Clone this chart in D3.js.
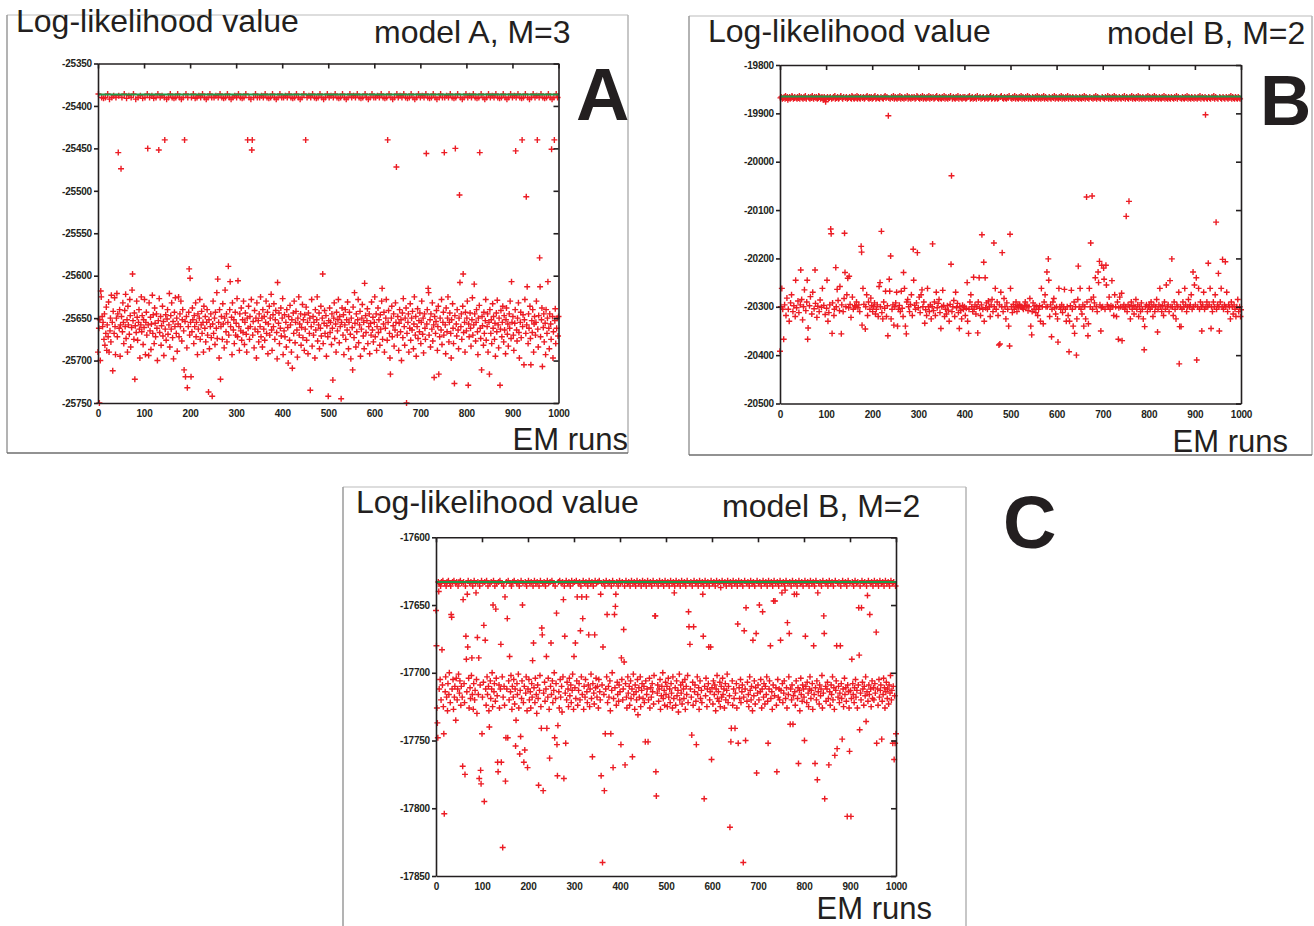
<!DOCTYPE html>
<html><head><meta charset="utf-8">
<script src="https://cdn.jsdelivr.net/npm/d3@7"></script>
<style>
body{margin:0;background:#fff}
svg{display:block}
text{font-family:"Liberation Sans",Arial,Helvetica,sans-serif;fill:#231f20}
</style>
</head><body>
<svg id="chart" width="1314" height="926"></svg>
<script>
// ---------------- data ----------------
const yLabel = "Log-likelihood value";
const xLabel = "EM runs";
const panelTitles = ["model A, M=3", "model B, M=2", "model B, M=2"];
const panelLetters = ["A", "B", "C"];
const xTicks = [0,100,200,300,400,500,600,700,800,900,1000];
const yTicksA = [-25350,-25400,-25450,-25500,-25550,-25600,-25650,-25700,-25750];
const yTicksB = [-19800,-19900,-20000,-20100,-20200,-20300,-20400,-20500];
const yTicksC = [-17600,-17650,-17700,-17750,-17800,-17850];
const bestA = -25386.5, bestB = -19865, bestC = -17633;
const runs = d3.range(0, 1001);

const valuesA = [
-25690,-25386,-25662,-25750,-25652,-25700,-25618,-25625,-25390,-25648,-25660,-25655,-25391,-25675,-25645,-25682,-25390,-25668,-25637,-25688,-25658,-25386,-25672,-25631,-25690,-25392,-25665,-25650,-25678,-25623,-25390,-25655,-25712,-25642,-25388,-25668,-25626,-25660,-25693,-25390,-25650,-25621,-25672,-25645,-25455,-25388,-25662,-25640,-25695,-25658,
-25474,-25648,-25390,-25666,-25632,-25655,-25680,-25386,-25641,-25660,-25622,-25674,-25391,-25652,-25690,-25636,-25658,-25388,-25669,-25628,-25647,-25684,-25390,-25661,-25617,-25598,-25653,-25386,-25675,-25644,-25722,-25659,-25392,-25667,-25630,-25649,-25676,-25390,-25655,-25640,-25663,-25697,-25388,-25658,-25625,-25666,-25647,-25391,-25681,-25652,
-25661,-25628,-25390,-25693,-25655,-25643,-25670,-25386,-25450,-25658,-25694,-25632,-25390,-25665,-25649,-25687,-25657,-25388,-25623,-25668,-25646,-25391,-25680,-25638,-25656,-25672,-25390,-25645,-25662,-25700,-25386,-25653,-25452,-25627,-25667,-25390,-25648,-25682,-25659,-25388,-25636,-25671,-25654,-25694,-25390,-25440,-25663,-25646,-25676,-25392,
-25651,-25640,-25669,-25390,-25658,-25621,-25684,-25386,-25647,-25663,-25632,-25390,-25673,-25654,-25698,-25391,-25643,-25660,-25626,-25390,-25668,-25650,-25689,-25386,-25657,-25625,-25672,-25390,-25645,-25660,-25630,-25392,-25677,-25652,-25640,-25390,-25665,-25711,-25440,-25654,-25719,-25386,-25648,-25685,-25732,-25390,-25660,-25643,-25592,-25670,
-25603,-25655,-25719,-25390,-25666,-25638,-25652,-25386,-25680,-25647,-25660,-25391,-25632,-25672,-25655,-25390,-25693,-25645,-25663,-25388,-25650,-25628,-25675,-25390,-25658,-25642,-25668,-25386,-25655,-25690,-25636,-25390,-25662,-25648,-25678,-25392,-25655,-25640,-25670,-25390,-25737,-25652,-25686,-25386,-25660,-25645,-25673,-25390,-25742,-25657,
-25630,-25668,-25390,-25650,-25681,-25643,-25388,-25662,-25620,-25674,-25604,-25390,-25655,-25697,-25640,-25386,-25722,-25660,-25648,-25390,-25675,-25633,-25657,-25391,-25685,-25650,-25617,-25390,-25666,-25645,-25678,-25386,-25655,-25589,-25670,-25390,-25640,-25607,-25660,-25392,-25649,-25693,-25632,-25390,-25664,-25652,-25680,-25388,-25643,-25670,
-25656,-25390,-25627,-25672,-25606,-25386,-25660,-25688,-25645,-25390,-25665,-25638,-25676,-25391,-25652,-25667,-25630,-25390,-25681,-25655,-25644,-25386,-25669,-25690,-25650,-25440,-25662,-25636,-25390,-25675,-25648,-25660,-25392,-25628,-25452,-25440,-25670,-25654,-25390,-25685,-25641,-25663,-25386,-25650,-25697,-25632,-25390,-25666,-25653,-25678,
-25645,-25390,-25660,-25625,-25672,-25388,-25650,-25684,-25640,-25390,-25663,-25648,-25676,-25386,-25655,-25630,-25668,-25390,-25643,-25692,-25657,-25391,-25636,-25670,-25650,-25390,-25622,-25664,-25688,-25386,-25646,-25660,-25633,-25390,-25675,-25652,-25641,-25392,-25667,-25698,-25608,-25390,-25656,-25644,-25680,-25386,-25662,-25638,-25671,-25390,
-25650,-25627,-25693,-25390,-25665,-25646,-25672,-25388,-25655,-25684,-25640,-25390,-25661,-25703,-25648,-25386,-25676,-25635,-25658,-25390,-25690,-25652,-25709,-25391,-25644,-25668,-25630,-25390,-25679,-25655,-25642,-25386,-25664,-25696,-25650,-25390,-25625,-25670,-25657,-25392,-25645,-25682,-25661,-25390,-25634,-25673,-25652,-25386,-25688,-25646,
-25663,-25440,-25637,-25676,-25390,-25655,-25692,-25644,-25388,-25668,-25650,-25735,-25390,-25660,-25628,-25683,-25386,-25648,-25670,-25655,-25390,-25697,-25640,-25664,-25391,-25652,-25625,-25677,-25390,-25658,-25644,-25686,-25386,-25662,-25636,-25671,-25390,-25650,-25598,-25680,-25392,-25656,-25641,-25668,-25390,-25647,-25695,-25659,-25386,-25672,
-25742,-25653,-25390,-25638,-25667,-25655,-25388,-25681,-25645,-25662,-25723,-25390,-25650,-25632,-25674,-25386,-25657,-25690,-25643,-25390,-25665,-25652,-25628,-25391,-25679,-25648,-25660,-25390,-25745,-25655,-25638,-25386,-25670,-25646,-25693,-25390,-25658,-25640,-25675,-25392,-25652,-25664,-25631,-25390,-25686,-25655,-25643,-25386,-25669,-25698,
-25650,-25390,-25661,-25711,-25637,-25388,-25673,-25620,-25656,-25390,-25684,-25645,-25666,-25386,-25652,-25628,-25679,-25390,-25658,-25642,-25695,-25391,-25663,-25650,-25634,-25390,-25671,-25655,-25686,-25609,-25386,-25647,-25667,-25390,-25653,-25639,-25680,-25392,-25660,-25645,-25692,-25390,-25656,-25670,-25631,-25386,-25664,-25649,-25678,-25390,
-25655,-25625,-25672,-25390,-25645,-25688,-25660,-25388,-25638,-25667,-25652,-25390,-25682,-25646,-25663,-25386,-25630,-25615,-25675,-25390,-25657,-25643,-25690,-25391,-25662,-25650,-25628,-25390,-25676,-25440,-25655,-25641,-25386,-25668,-25697,-25716,-25390,-25650,-25636,-25672,-25392,-25659,-25645,-25683,-25390,-25664,-25632,-25655,-25472,-25386,
-25670,-25648,-25390,-25688,-25656,-25640,-25388,-25666,-25652,-25700,-25390,-25644,-25673,-25627,-25386,-25660,-25682,-25650,-25390,-25638,-25750,-25668,-25391,-25655,-25645,-25690,-25390,-25662,-25633,-25676,-25386,-25650,-25664,-25642,-25390,-25686,-25657,-25625,-25392,-25670,-25648,-25695,-25390,-25660,-25639,-25674,-25386,-25653,-25666,-25644,
-25390,-25680,-25655,-25630,-25388,-25669,-25650,-25691,-25390,-25645,-25662,-25675,-25386,-25456,-25657,-25640,-25390,-25615,-25620,-25670,-25391,-25652,-25684,-25645,-25390,-25663,-25632,-25677,-25386,-25658,-25720,-25648,-25390,-25668,-25654,-25641,-25392,-25688,-25660,-25636,-25716,-25390,-25672,-25650,-25386,-25664,-25628,-25681,-25390,-25655,
-25643,-25670,-25455,-25390,-25658,-25692,-25638,-25388,-25666,-25650,-25625,-25390,-25678,-25655,-25644,-25386,-25668,-25697,-25652,-25390,-25633,-25662,-25680,-25391,-25727,-25647,-25450,-25390,-25657,-25671,-25640,-25386,-25664,-25686,-25650,-25505,-25608,-25390,-25660,-25645,-25675,-25392,-25636,-25598,-25667,-25390,-25655,-25690,-25643,-25386,
-25665,-25650,-25630,-25390,-25729,-25657,-25672,-25388,-25644,-25662,-25683,-25390,-25652,-25626,-25670,-25386,-25658,-25610,-25645,-25390,-25677,-25655,-25640,-25391,-25666,-25693,-25650,-25390,-25635,-25455,-25662,-25674,-25386,-25711,-25648,-25659,-25390,-25682,-25643,-25668,-25392,-25653,-25628,-25676,-25390,-25660,-25645,-25690,-25386,-25655,
-25716,-25640,-25390,-25668,-25652,-25680,-25388,-25633,-25662,-25648,-25390,-25675,-25656,-25695,-25386,-25644,-25666,-25629,-25390,-25658,-25685,-25650,-25391,-25729,-25663,-25641,-25390,-25672,-25655,-25636,-25386,-25678,-25647,-25664,-25390,-25692,-25652,-25638,-25392,-25669,-25657,-25683,-25390,-25645,-25662,-25630,-25386,-25674,-25607,-25655,
-25390,-25648,-25670,-25688,-25388,-25656,-25640,-25453,-25390,-25664,-25677,-25650,-25386,-25632,-25667,-25697,-25390,-25655,-25643,-25673,-25391,-25440,-25660,-25646,-25390,-25705,-25652,-25628,-25386,-25668,-25507,-25658,-25613,-25390,-25680,-25645,-25662,-25392,-25636,-25674,-25705,-25390,-25653,-25667,-25640,-25386,-25690,-25657,-25648,-25390,
-25670,-25655,-25630,-25388,-25440,-25663,-25684,-25647,-25390,-25579,-25613,-25672,-25386,-25652,-25638,-25707,-25390,-25661,-25645,-25678,-25391,-25656,-25693,-25640,-25390,-25668,-25650,-25607,-25386,-25662,-25686,-25645,-25390,-25657,-25675,-25451,-25392,-25648,-25697,-25666,-25390,-25440,-25653,-25639,-25680,-25386,-25662,-25650,-25390,-25671,-25648
];

const valuesB = [
-20392,-19868,-20300,-19866,-20262,-19870,-20305,-19868,-20367,-19866,-20296,-19870,-19864,-20318,-19868,-20282,-19866,-19872,-20305,-19868,-20330,-19866,-19870,-20292,-19868,-20275,-19864,-19866,-20310,-19870,-20298,-19868,-19866,-20320,-20245,-19868,-20302,-19870,-19866,-20288,-19868,-20312,-19864,-19870,-20296,-20224,-19866,-20285,-19868,-20327,
-19870,-20300,-19866,-20265,-19868,-19864,-20308,-19870,-20290,-20245,-20367,-20344,-19866,-19868,-20298,-19870,-20279,-19866,-19868,-20315,-19864,-20270,-19868,-19870,-20304,-19866,-20224,-20293,-19868,-19866,-20322,-19870,-20299,-19868,-19864,-20310,-19866,-20286,-19870,-19868,-20301,-19866,-20262,-19868,-19872,-20297,-19866,-19870,-20316,-19876,
-19868,-20303,-20245,-19866,-20330,-19870,-20312,-19868,-20296,-19866,-20139,-20149,-19870,-20355,-20292,-19868,-19866,-20318,-20305,-19864,-19870,-20219,-20300,-19868,-20264,-19866,-20287,-19870,-19868,-20308,-20258,-19866,-19864,-20356,-20296,-19868,-19870,-20310,-19866,-20283,-20148,-20229,-19868,-20300,-19866,-20275,-19870,-20241,-19868,-20302,
-20237,-19866,-20295,-19868,-20322,-19870,-19864,-20280,-19866,-20305,-19868,-19870,-20298,-19866,-20300,-19868,-20290,-19864,-19870,-20302,-19866,-20296,-19868,-20310,-19870,-19866,-20175,-20187,-20338,-19868,-20262,-19866,-20295,-19870,-19868,-20346,-20300,-19866,-20275,-19864,-20318,-19868,-20290,-19870,-19866,-20305,-19868,-20282,-19866,-20297,
-19870,-20310,-19868,-20300,-19866,-20292,-19864,-20315,-19870,-20305,-19868,-20296,-19866,-20320,-19868,-20258,-19870,-20250,-20300,-19866,-20144,-20312,-19868,-20325,-19870,-20290,-19866,-20303,-19864,-20268,-19868,-20320,-19866,-20298,-20360,-19905,-19868,-20243,-20268,-19870,-20195,-20325,-19866,-20305,-19868,-20296,-19864,-20338,-19870,-20300,
-19866,-20292,-19868,-20270,-19870,-20340,-19866,-20305,-19868,-20297,-19864,-20310,-19870,-20268,-19866,-20303,-19868,-20320,-20229,-19870,-20262,-19866,-20340,-19868,-20356,-20290,-19864,-20285,-19870,-20300,-19866,-20310,-19868,-20295,-19870,-20275,-19866,-20318,-19868,-20181,-20245,-19866,-20297,-19870,-20305,-19868,-20292,-19864,-20188,-19866,
-20302,-19868,-20280,-19870,-20312,-19866,-20275,-19868,-20265,-19864,-20300,-19870,-20290,-19866,-20334,-19868,-20306,-19870,-20318,-19866,-20262,-19868,-20300,-19864,-20310,-19870,-20296,-19866,-20325,-19868,-20300,-20170,-19866,-20308,-19870,-20290,-19868,-20318,-19866,-20270,-19864,-20302,-19868,-20293,-19870,-20285,-19866,-20312,-19868,-20345,
-19870,-20300,-19866,-20266,-19868,-20297,-19864,-20320,-19870,-20305,-19866,-20315,-19868,-20298,-19870,-20307,-19866,-20330,-19868,-20295,-19864,-20212,-20029,-20310,-19870,-20300,-19866,-20287,-19868,-20320,-19870,-20270,-19866,-20302,-19868,-20293,-19864,-20312,-19870,-20345,-20300,-19866,-20308,-19868,-20325,-19870,-20297,-19866,-20305,-19868,
-20300,-19866,-20318,-19870,-20303,-19868,-20250,-20330,-19866,-20355,-20305,-19864,-20290,-19870,-20275,-19868,-20300,-19866,-20310,-19870,-20239,-20305,-19868,-20296,-19866,-20315,-19870,-20300,-19864,-20354,-20290,-19868,-20240,-20303,-19866,-20318,-19870,-20296,-20151,-19868,-20305,-19866,-20208,-20330,-19870,-20240,-20302,-19868,-20292,-19866,
-20305,-19870,-20288,-19868,-20300,-19866,-20320,-19864,-20296,-19870,-20285,-19868,-20310,-19866,-20168,-20300,-19870,-20262,-19868,-20305,-19866,-20290,-19870,-20318,-19868,-20379,-20296,-20377,-19866,-20270,-19864,-20300,-20188,-19868,-20310,-19870,-20283,-19866,-20300,-19868,-20325,-19870,-20292,-19866,-20305,-19868,-20340,-19864,-20381,-20150,
-20262,-19868,-20300,-19870,-20312,-19866,-20295,-19868,-20305,-19864,-20300,-19870,-20290,-19866,-20310,-19868,-20298,-19870,-20302,-19866,-20295,-19868,-20300,-19864,-20300,-19870,-20302,-19866,-20305,-19868,-20298,-19870,-20290,-19866,-20300,-19868,-20297,-19864,-20308,-19870,-20300,-19866,-20283,-19868,-20340,-19870,-20358,-20310,-19866,-20292,
-19868,-20305,-19870,-20298,-19866,-20312,-19868,-20300,-19864,-20318,-19870,-20305,-19866,-20298,-19868,-20330,-19870,-20262,-19866,-20300,-19868,-20335,-19864,-20290,-19870,-20275,-19866,-20300,-19868,-20228,-20300,-19870,-20201,-20245,-19866,-20320,-19868,-20296,-19870,-20362,-20305,-19866,-20290,-19868,-20283,-19864,-20302,-19870,-20315,-19866,
-20300,-19868,-20325,-20373,-19870,-20262,-19866,-20300,-19868,-20305,-19864,-20296,-19870,-20312,-19866,-20300,-19868,-20264,-19870,-20305,-19866,-20330,-19868,-20300,-19864,-20318,-19870,-20393,-20330,-19866,-20298,-19868,-20266,-19870,-20305,-19866,-20340,-19868,-20290,-20355,-19870,-20300,-19866,-20400,-20325,-19868,-20285,-20216,-19870,-20300,
-19866,-20262,-19868,-20305,-19870,-20315,-19866,-20296,-19868,-20340,-19864,-20300,-19870,-20325,-19866,-20073,-20290,-19868,-20360,-20335,-19870,-20262,-19866,-20300,-20168,-20285,-19868,-20071,-20305,-19870,-20280,-19866,-20292,-19868,-20240,-19864,-20300,-19870,-20310,-19866,-20228,-20250,-19868,-20206,-20296,-19870,-20350,-20302,-20214,-19866,
-20300,-19868,-20220,-20243,-19870,-20305,-19866,-20214,-20255,-19868,-20296,-19864,-20300,-19870,-20280,-19866,-20305,-19868,-20298,-19870,-20246,-19866,-20300,-19868,-20318,-19864,-20275,-19870,-20300,-19866,-20320,-19868,-20290,-19870,-20367,-20302,-19866,-20280,-19868,-20300,-19870,-20272,-20370,-19866,-20300,-19868,-20296,-19864,-20305,-19870,
-20300,-20113,-19866,-20310,-19868,-20296,-19870,-20082,-20300,-19866,-20325,-19868,-20290,-19864,-20305,-19870,-20298,-19866,-20315,-19868,-20300,-19870,-20285,-19866,-20305,-19868,-20296,-19864,-20320,-19870,-20300,-19866,-20310,-19868,-20292,-19870,-20305,-19866,-20325,-19868,-20389,-20341,-19870,-20300,-19866,-20296,-19868,-20310,-19864,-20300,
-19870,-20296,-19866,-20305,-19868,-20290,-19870,-20300,-19866,-20320,-19868,-20296,-19864,-20310,-19870,-20300,-19866,-20285,-19868,-20352,-20305,-19870,-20296,-19866,-20262,-19868,-20300,-19870,-20310,-19866,-20298,-19868,-20318,-19864,-20290,-19870,-20305,-19866,-20255,-19868,-20300,-19870,-20296,-19866,-20310,-19868,-20246,-19870,-20300,-19866,
-20201,-20300,-19868,-20318,-19870,-20290,-19866,-20305,-19868,-20325,-19864,-20296,-19870,-20300,-19866,-20270,-20418,-20341,-19868,-20300,-20341,-19870,-20305,-19866,-20290,-19868,-20300,-19870,-20262,-19866,-20296,-19868,-20310,-19864,-20300,-19870,-20285,-19866,-20300,-19868,-20296,-19870,-20275,-19866,-20305,-19868,-20228,-20300,-19870,-20255,
-19866,-20296,-19868,-20240,-20410,-19870,-20300,-19866,-20262,-19868,-20305,-19864,-20290,-19870,-20300,-20350,-19866,-20296,-19868,-20270,-19870,-20305,-19866,-19903,-20300,-19868,-20290,-19870,-20300,-20210,-19866,-20296,-19868,-20262,-19870,-20345,-20300,-19866,-20310,-19868,-20290,-19864,-20300,-19870,-20275,-19866,-20125,-20305,-19868,-20296,
-19870,-20231,-20300,-20350,-19866,-20290,-19868,-20262,-19870,-20300,-20202,-19866,-20305,-19868,-20296,-19870,-20207,-20300,-19866,-20270,-19868,-20310,-19870,-20296,-19866,-20300,-19868,-20325,-19864,-20290,-19870,-20300,-19866,-20315,-19868,-20296,-19870,-20305,-19866,-20320,-19868,-20300,-19870,-20285,-19866,-20310,-19868,-20300,-19870,-20320,-20306
];

const valuesC = [
-17654,-17680,-17726,-17737,-17748,-17633,-17640,-17712,-17634,-17705,-17636,-17720,-17633,-17683,-17709,-17632,-17725,-17745,-17804,-17634,-17714,-17703,-17636,-17718,-17633,-17728,-17708,-17632,-17716,-17700,-17634,-17722,-17636,-17657,-17659,-17712,-17633,-17705,-17727,-17632,-17718,-17710,-17634,-17735,-17704,-17633,-17720,-17712,-17636,-17701,
-17633,-17715,-17706,-17632,-17724,-17710,-17634,-17718,-17769,-17646,-17633,-17708,-17722,-17775,-17636,-17673,-17690,-17714,-17642,-17681,-17632,-17704,-17726,-17634,-17711,-17719,-17633,-17702,-17689,-17716,-17636,-17727,-17708,-17632,-17720,-17713,-17634,-17641,-17705,-17730,-17674,-17633,-17716,-17689,-17778,-17636,-17709,-17772,-17782,-17632,
-17745,-17718,-17634,-17707,-17665,-17795,-17633,-17676,-17712,-17724,-17632,-17703,-17716,-17636,-17710,-17728,-17740,-17634,-17706,-17719,-17633,-17712,-17700,-17725,-17650,-17632,-17714,-17708,-17636,-17721,-17653,-17704,-17634,-17717,-17766,-17773,-17633,-17709,-17726,-17632,-17712,-17679,-17766,-17634,-17703,-17829,-17718,-17636,-17710,-17724,
-17644,-17780,-17748,-17633,-17712,-17660,-17748,-17632,-17706,-17720,-17688,-17634,-17714,-17702,-17636,-17727,-17710,-17633,-17718,-17705,-17632,-17723,-17712,-17754,-17735,-17634,-17708,-17716,-17633,-17701,-17726,-17636,-17760,-17713,-17747,-17632,-17719,-17706,-17650,-17634,-17722,-17766,-17710,-17757,-17633,-17715,-17703,-17636,-17728,-17770,
-17712,-17632,-17705,-17720,-17634,-17714,-17726,-17633,-17708,-17718,-17691,-17636,-17678,-17711,-17632,-17722,-17704,-17634,-17716,-17730,-17633,-17709,-17719,-17783,-17636,-17713,-17702,-17632,-17725,-17741,-17667,-17672,-17634,-17787,-17715,-17633,-17707,-17721,-17636,-17712,-17688,-17741,-17632,-17718,-17704,-17634,-17727,-17763,-17633,-17710,
-17678,-17716,-17632,-17706,-17722,-17634,-17713,-17700,-17748,-17636,-17719,-17708,-17656,-17753,-17776,-17739,-17633,-17714,-17726,-17632,-17705,-17718,-17634,-17710,-17729,-17633,-17703,-17646,-17778,-17636,-17673,-17715,-17752,-17632,-17720,-17707,-17634,-17712,-17725,-17633,-17704,-17717,-17636,-17709,-17722,-17632,-17713,-17701,-17634,-17727,
-17688,-17633,-17711,-17678,-17719,-17632,-17706,-17644,-17724,-17634,-17713,-17708,-17633,-17720,-17669,-17636,-17703,-17644,-17716,-17660,-17632,-17727,-17710,-17634,-17718,-17705,-17633,-17644,-17714,-17722,-17636,-17709,-17672,-17632,-17725,-17712,-17634,-17701,-17719,-17633,-17762,-17708,-17636,-17715,-17723,-17672,-17632,-17711,-17704,-17634,
-17718,-17710,-17633,-17726,-17705,-17632,-17714,-17720,-17642,-17776,-17634,-17709,-17840,-17681,-17633,-17716,-17787,-17636,-17745,-17712,-17632,-17703,-17657,-17722,-17634,-17710,-17718,-17633,-17706,-17728,-17745,-17636,-17713,-17700,-17632,-17770,-17719,-17634,-17657,-17711,-17651,-17642,-17724,-17633,-17707,-17716,-17636,-17721,-17709,-17632,
-17714,-17634,-17753,-17689,-17705,-17633,-17720,-17712,-17668,-17692,-17636,-17768,-17708,-17632,-17718,-17726,-17634,-17703,-17715,-17633,-17710,-17724,-17636,-17706,-17719,-17632,-17712,-17762,-17634,-17701,-17716,-17633,-17727,-17709,-17636,-17714,-17720,-17632,-17705,-17731,-17634,-17711,-17718,-17633,-17703,-17725,-17636,-17713,-17708,-17632,
-17719,-17634,-17710,-17722,-17633,-17751,-17706,-17636,-17716,-17712,-17632,-17751,-17720,-17634,-17704,-17726,-17633,-17711,-17718,-17636,-17708,-17714,-17632,-17723,-17702,-17634,-17658,-17658,-17773,-17791,-17633,-17715,-17709,-17636,-17721,-17712,-17632,-17705,-17727,-17634,-17717,-17710,-17633,-17700,-17719,-17636,-17713,-17724,-17632,-17707,
-17716,-17634,-17710,-17725,-17633,-17704,-17718,-17636,-17712,-17722,-17632,-17708,-17715,-17634,-17726,-17703,-17633,-17719,-17641,-17636,-17711,-17724,-17632,-17706,-17717,-17634,-17713,-17729,-17633,-17701,-17720,-17636,-17709,-17715,-17632,-17723,-17707,-17634,-17712,-17719,-17633,-17705,-17727,-17636,-17710,-17716,-17632,-17702,-17722,-17655,
-17666,-17634,-17679,-17712,-17633,-17718,-17746,-17636,-17707,-17724,-17666,-17632,-17714,-17709,-17634,-17721,-17753,-17633,-17703,-17716,-17636,-17711,-17727,-17632,-17706,-17719,-17634,-17713,-17722,-17633,-17642,-17673,-17636,-17793,-17710,-17632,-17717,-17704,-17634,-17725,-17712,-17633,-17708,-17681,-17636,-17720,-17714,-17681,-17632,-17764,
-17711,-17634,-17723,-17706,-17633,-17716,-17709,-17636,-17728,-17712,-17632,-17702,-17719,-17634,-17714,-17721,-17633,-17707,-17725,-17637,-17710,-17718,-17632,-17704,-17716,-17634,-17712,-17726,-17633,-17708,-17720,-17636,-17713,-17701,-17632,-17722,-17710,-17634,-17717,-17814,-17633,-17751,-17741,-17636,-17706,-17724,-17632,-17712,-17719,-17634,
-17741,-17715,-17633,-17708,-17726,-17636,-17664,-17752,-17632,-17711,-17719,-17634,-17705,-17722,-17633,-17714,-17709,-17636,-17840,-17718,-17669,-17632,-17712,-17750,-17652,-17634,-17721,-17707,-17633,-17716,-17725,-17636,-17703,-17713,-17632,-17720,-17710,-17634,-17728,-17676,-17633,-17717,-17706,-17636,-17723,-17711,-17671,-17774,-17632,-17715,
-17709,-17634,-17720,-17650,-17633,-17714,-17705,-17636,-17726,-17712,-17655,-17632,-17718,-17708,-17634,-17723,-17710,-17633,-17716,-17703,-17636,-17721,-17752,-17632,-17712,-17706,-17634,-17680,-17719,-17633,-17714,-17727,-17636,-17709,-17647,-17632,-17717,-17647,-17634,-17711,-17724,-17773,-17633,-17705,-17718,-17636,-17712,-17720,-17632,-17676,
-17713,-17634,-17641,-17708,-17722,-17633,-17715,-17706,-17636,-17639,-17719,-17632,-17711,-17726,-17663,-17634,-17716,-17703,-17671,-17633,-17738,-17712,-17636,-17720,-17709,-17632,-17738,-17717,-17634,-17642,-17714,-17724,-17633,-17706,-17642,-17636,-17719,-17711,-17767,-17632,-17713,-17728,-17634,-17704,-17716,-17633,-17721,-17709,-17636,-17712,
-17718,-17750,-17632,-17673,-17710,-17634,-17722,-17707,-17633,-17715,-17725,-17636,-17712,-17703,-17632,-17719,-17713,-17634,-17708,-17727,-17633,-17680,-17716,-17636,-17767,-17711,-17632,-17720,-17706,-17779,-17641,-17714,-17634,-17723,-17709,-17633,-17717,-17712,-17636,-17702,-17726,-17632,-17715,-17658,-17671,-17793,-17634,-17710,-17721,-17633,
-17712,-17707,-17636,-17719,-17768,-17632,-17714,-17724,-17634,-17709,-17716,-17633,-17703,-17720,-17636,-17711,-17727,-17761,-17632,-17713,-17706,-17680,-17756,-17634,-17718,-17710,-17633,-17722,-17715,-17680,-17636,-17708,-17719,-17749,-17632,-17712,-17725,-17634,-17704,-17716,-17633,-17711,-17721,-17636,-17806,-17709,-17632,-17714,-17726,-17758,
-17634,-17713,-17806,-17719,-17690,-17633,-17708,-17716,-17636,-17722,-17711,-17632,-17705,-17718,-17634,-17713,-17726,-17633,-17709,-17652,-17687,-17742,-17636,-17715,-17720,-17652,-17632,-17707,-17712,-17634,-17724,-17710,-17633,-17717,-17703,-17736,-17636,-17714,-17643,-17721,-17632,-17709,-17716,-17657,-17634,-17712,-17725,-17633,-17706,-17719,
-17636,-17711,-17720,-17632,-17708,-17715,-17634,-17670,-17752,-17633,-17712,-17724,-17636,-17705,-17718,-17632,-17713,-17709,-17634,-17749,-17721,-17633,-17716,-17704,-17636,-17711,-17726,-17632,-17714,-17707,-17634,-17719,-17712,-17633,-17723,-17709,-17636,-17715,-17702,-17632,-17720,-17713,-17634,-17752,-17710,-17633,-17764,-17717,-17752,-17636,-17745
];

// ---------------- layout (positions only) ----------------
const panels = [
  { values: valuesA, yTicks: yTicksA, best: bestA, title: panelTitles[0], letter: panelLetters[0],
    frame: [7, 15, 628, 453], plot: [98, 63.5, 558.5, 403],
    ylPos: [16, 32], titlePos: [374, 43], letterPos: [576, 120], letterSize: 74, xlPos: [628, 450] },
  { values: valuesB, yTicks: yTicksB, best: bestB, title: panelTitles[1], letter: panelLetters[1],
    frame: [689, 16, 1312, 455], plot: [780, 65, 1241, 403.5],
    ylPos: [708, 42], titlePos: [1107, 44], letterPos: [1260, 125], letterSize: 71, xlPos: [1288, 452] },
  { values: valuesC, yTicks: yTicksC, best: bestC, title: panelTitles[2], letter: panelLetters[2],
    frame: [343, 487, 966, 960], plot: [436, 537.3, 896, 876],
    ylPos: [356, 513], titlePos: [722, 517], letterPos: [1003, 548], letterSize: 74, xlPos: [932, 919] }
];

const svg = d3.select("#chart");
const ink = "#231f20";
const red = "#ec1c24";
const green = "#1f9a48";
const fmt = d => String(d);

panels.forEach(p => {
  const g = svg.append("g");
  const [fx0, fy0, fx1, fy1] = p.frame;
  const frameSides = [
    [fx0, fy0, fx1, fy0, "#d2d2d2"],
    [fx0, fy0, fx0, fy1, "#9a9a9a"],
    [fx1, fy0, fx1, fy1, "#b4b4b4"],
    [fx0, fy1, fx1, fy1, "#6e6e6e"]
  ];
  g.selectAll("line.frame").data(frameSides).join("line").attr("class", "frame")
    .attr("x1", d => d[0]).attr("y1", d => d[1]).attr("x2", d => d[2]).attr("y2", d => d[3])
    .attr("stroke", d => d[4]).attr("stroke-width", 1.5);

  const [px0, py0, px1, py1] = p.plot;
  const x = d3.scaleLinear().domain([0, 1000]).range([px0, px1]);
  const y = d3.scaleLinear().domain([d3.min(p.yTicks), d3.max(p.yTicks)]).range([py1, py0]);

  // markers
  g.append("g").selectAll("path").data(p.values).join("path")
    .attr("d", "M-3,0H3M0,-3V3")
    .attr("transform", (d, i) => `translate(${x(runs[i])},${y(d)})`)
    .attr("stroke", red).attr("stroke-width", 1.4).attr("fill", "none");

  // best value line
  g.append("line")
    .attr("x1", x(0)).attr("x2", x(1000)).attr("y1", y(p.best)).attr("y2", y(p.best))
    .attr("stroke", green).attr("stroke-width", 2);

  // axes
  const axL = g.append("g").attr("transform", `translate(${px0},0)`)
    .call(d3.axisLeft(y).tickValues(p.yTicks).tickFormat(fmt).tickSize(4).tickSizeOuter(0).tickPadding(2));
  const axB = g.append("g").attr("transform", `translate(0,${py1})`)
    .call(d3.axisBottom(x).tickValues(xTicks).tickFormat(fmt).tickSize(0).tickSizeOuter(0).tickPadding(7));
  const axT = g.append("g").attr("transform", `translate(0,${py0})`)
    .call(d3.axisTop(x).tickValues(xTicks).tickFormat("").tickSize(-5).tickSizeOuter(0));
  const axR = g.append("g").attr("transform", `translate(${px1},0)`)
    .call(d3.axisRight(y).tickValues(p.yTicks).tickFormat("").tickSize(-5).tickSizeOuter(0));
  [axL, axB, axT, axR].forEach(a => {
    a.selectAll(".domain, .tick line").attr("stroke", ink).attr("stroke-width", 1.6);
    a.selectAll("text").attr("fill", ink).style("font-size", "10px").style("font-weight", "bold")
      .style("font-family", '"Liberation Sans", Arial, sans-serif').style("letter-spacing", "-0.2px");
  });

  // texts
  g.append("text").attr("x", p.ylPos[0]).attr("y", p.ylPos[1]).style("font-size", "32px").text(yLabel);
  g.append("text").attr("x", p.titlePos[0]).attr("y", p.titlePos[1]).style("font-size", "32px").text(p.title);
  g.append("text").attr("x", p.xlPos[0]).attr("y", p.xlPos[1]).attr("text-anchor", "end").style("font-size", "31px").text(xLabel);
  g.append("text").attr("x", p.letterPos[0]).attr("y", p.letterPos[1]).style("font-size", p.letterSize + "px").style("font-weight", "bold").text(p.letter);
});
</script>
</body></html>
